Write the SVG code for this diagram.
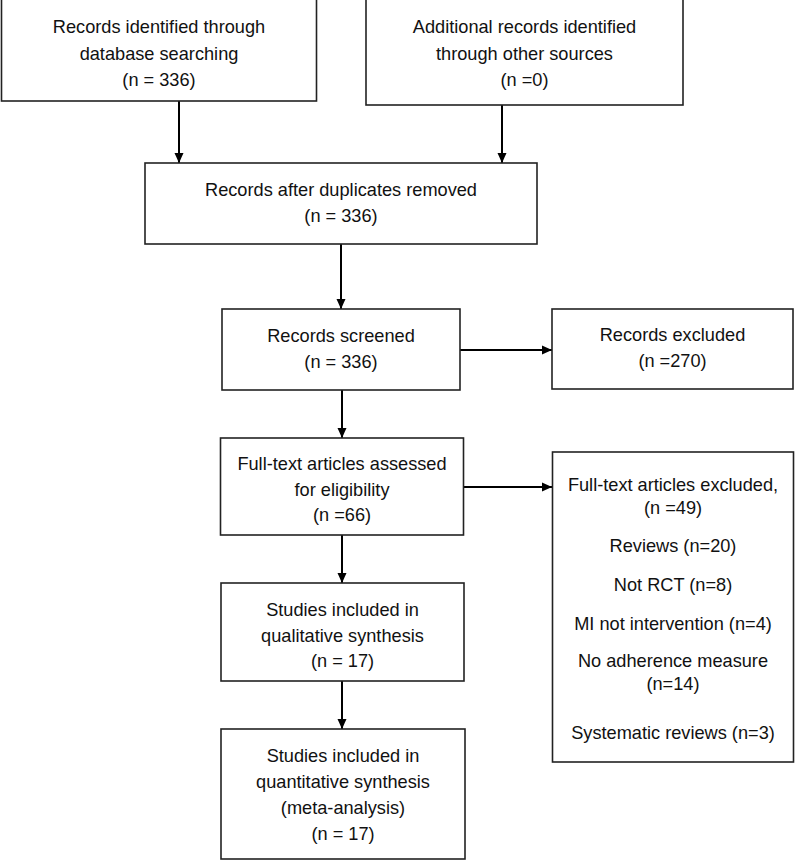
<svg xmlns="http://www.w3.org/2000/svg" width="796" height="861" viewBox="0 0 796 861">
<style>
.box{fill:#fff;stroke:#222;stroke-width:1.6}
.t{font-family:"Liberation Sans",Arial,sans-serif;font-size:18.2px;fill:#111;text-anchor:middle}
.c{stroke:#000;stroke-width:2;fill:none}
</style>
<defs>
<marker id="ah" viewBox="0 0 10 10" refX="10" refY="5" markerWidth="10" markerHeight="10" markerUnits="userSpaceOnUse" orient="auto">
<path d="M0,0.5 L10,5 L0,9.5 Z" fill="#000"/>
</marker>
</defs>
<rect width="796" height="861" fill="#fff"/>
<g id="connectors">
<line class="c" x1="179" y1="101" x2="179" y2="163" marker-end="url(#ah)"/>
<line class="c" x1="502" y1="105" x2="502" y2="163" marker-end="url(#ah)"/>
<line class="c" x1="341" y1="244" x2="341" y2="309" marker-end="url(#ah)"/>
<line class="c" x1="460" y1="350" x2="552" y2="350" marker-end="url(#ah)"/>
<line class="c" x1="342" y1="390" x2="342" y2="438" marker-end="url(#ah)"/>
<line class="c" x1="464" y1="487" x2="552" y2="487" marker-end="url(#ah)"/>
<line class="c" x1="342" y1="535" x2="342" y2="583" marker-end="url(#ah)"/>
<line class="c" x1="342" y1="681" x2="342" y2="729" marker-end="url(#ah)"/>
</g>
<g id="n1">
<rect class="box" x="1.5" y="-1" width="315" height="102"/>
<text class="t" x="159" y="33">Records identified through</text>
<text class="t" x="159" y="60">database searching</text>
<text class="t" x="159" y="86">(n = 336)</text>
</g>
<g id="n2">
<rect class="box" x="366" y="-1" width="317" height="106"/>
<text class="t" x="524.5" y="33">Additional records identified</text>
<text class="t" x="524.5" y="60">through other sources</text>
<text class="t" x="524.5" y="86">(n =0)</text>
</g>
<g id="n3">
<rect class="box" x="145" y="163" width="392" height="81"/>
<text class="t" x="341" y="196">Records after duplicates removed</text>
<text class="t" x="341" y="222">(n = 336)</text>
</g>
<g id="n4">
<rect class="box" x="222" y="309" width="238" height="81"/>
<text class="t" x="341" y="342">Records screened</text>
<text class="t" x="341" y="368">(n = 336)</text>
</g>
<g id="n5">
<rect class="box" x="552" y="309" width="241" height="80"/>
<text class="t" x="672.5" y="341">Records excluded</text>
<text class="t" x="672.5" y="367">(n =270)</text>
</g>
<g id="n6">
<rect class="box" x="220.5" y="438" width="243" height="97"/>
<text class="t" x="342" y="470">Full-text articles assessed</text>
<text class="t" x="342" y="496">for eligibility</text>
<text class="t" x="342" y="521">(n =66)</text>
</g>
<g id="n7">
<rect class="box" x="552.5" y="452" width="241" height="310"/>
<text class="t" x="673" y="491">Full-text articles excluded,</text>
<text class="t" x="673" y="514">(n =49)</text>
<text class="t" x="673" y="552">Reviews (n=20)</text>
<text class="t" x="673" y="591">Not RCT (n=8)</text>
<text class="t" x="673" y="630">MI not intervention (n=4)</text>
<text class="t" x="673" y="667">No adherence measure</text>
<text class="t" x="673" y="690">(n=14)</text>
<text class="t" x="673" y="739">Systematic reviews (n=3)</text>
</g>
<g id="n8">
<rect class="box" x="221" y="583" width="243" height="98"/>
<text class="t" x="342.5" y="616">Studies included in</text>
<text class="t" x="342.5" y="642">qualitative synthesis</text>
<text class="t" x="342.5" y="667">(n = 17)</text>
</g>
<g id="n9">
<rect class="box" x="221" y="729" width="244" height="130"/>
<text class="t" x="343" y="762">Studies included in</text>
<text class="t" x="343" y="788">quantitative synthesis</text>
<text class="t" x="343" y="814">(meta-analysis)</text>
<text class="t" x="343" y="840">(n = 17)</text>
</g>
</svg>
